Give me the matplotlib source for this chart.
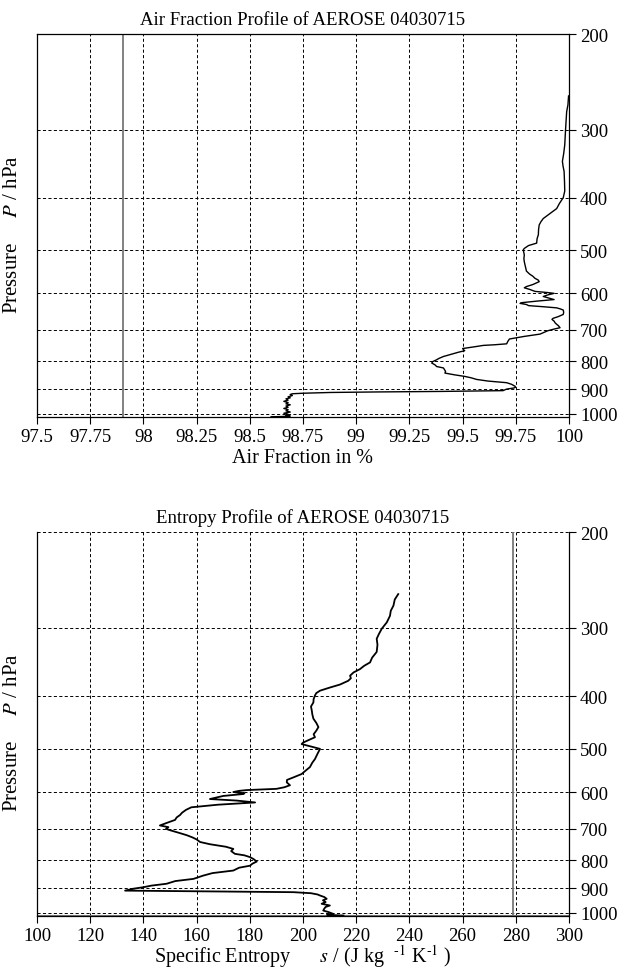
import matplotlib
matplotlib.use("Agg")
import matplotlib.pyplot as plt
from matplotlib.ticker import FixedLocator, NullLocator

plt.rcParams['font.family'] = ['Liberation Serif', 'DejaVu Serif']
plt.rcParams['mathtext.fontset'] = 'stix'

# --- data -------------------------------------------------------------
p_ticks = [200, 300, 400, 500, 600, 700, 800, 900, 1000]

# air fraction profile (pressure in hPa, air fraction in %)
air_p = [260, 270, 278, 290, 299, 310, 320, 332, 343, 350, 358, 375, 389, 400,
         410, 419, 428, 437, 443, 449, 458, 468, 476, 485, 490, 496, 499, 510,
         518, 525, 535, 546, 553, 558, 563, 567, 571, 578, 583, 586, 590, 595,
         598, 600, 604, 608, 612, 616, 620, 624, 626, 629, 632, 635, 638, 641,
         644, 650, 656, 662, 667, 670, 675, 680, 684, 688, 694, 698, 703, 709,
         713, 720, 728, 736, 743, 746, 748, 752, 758, 762, 765, 770, 776, 784,
         790, 796, 801, 806, 812, 818, 823, 829, 835, 841, 847, 853, 858, 864,
         870, 876, 882, 889, 893, 896, 900, 906, 909, 911, 913, 916, 918, 921,
         925, 930, 934, 938, 943, 948, 953, 958, 962, 967, 972, 977, 982, 987,
         992, 997, 1002, 1006, 1009, 1011, 1012]
air_frac = [99.998, 99.995, 99.989, 99.986, 99.984, 99.982, 99.980, 99.975,
            99.969, 99.972, 99.977, 99.979, 99.980, 99.973, 99.955, 99.942,
            99.910, 99.879, 99.868, 99.860, 99.857, 99.856, 99.850, 99.848,
            99.810, 99.790, 99.785, 99.790, 99.788, 99.790, 99.795, 99.800,
            99.815, 99.830, 99.840, 99.855, 99.860, 99.830, 99.800, 99.790,
            99.815, 99.840, 99.900, 99.930, 99.900, 99.879, 99.905, 99.930,
            99.850, 99.780, 99.770, 99.800, 99.810, 99.880, 99.942, 99.960,
            99.973, 99.975, 99.973, 99.950, 99.925, 99.920, 99.930, 99.935,
            99.942, 99.950, 99.958, 99.930, 99.900, 99.879, 99.864, 99.790,
            99.720, 99.712, 99.707, 99.650, 99.597, 99.560, 99.500, 99.505,
            99.510, 99.480, 99.450, 99.410, 99.390, 99.375, 99.360, 99.355,
            99.370, 99.378, 99.410, 99.415, 99.420, 99.417, 99.460, 99.510,
            99.540, 99.566, 99.620, 99.707, 99.730, 99.746, 99.750, 99.740,
            99.707, 99.690, 99.400, 99.100, 98.880, 98.750, 98.700, 98.690,
            98.700, 98.680, 98.690, 98.670, 98.680, 98.660, 98.680, 98.670,
            98.690, 98.670, 98.680, 98.660, 98.680, 98.670, 98.690, 98.660,
            98.680, 98.670, 98.690, 98.650, 98.600]

# entropy profile (pressure in hPa, specific entropy in J/kg/K)
ent_p = [260, 266, 273, 279, 285, 293, 301, 308, 314, 322, 332, 340, 347, 352,
         357, 362, 367, 371, 375, 381, 386, 391, 395, 399, 405, 411, 418, 425,
         432, 440, 448, 456, 463, 470, 476, 482, 487, 490, 495, 500, 510, 522,
         530, 540, 548, 556, 564, 570, 576, 583, 588, 592, 595, 597, 600, 603,
         605, 610, 618, 622, 627, 633, 640, 647, 655, 661, 668, 675, 683, 691,
         696, 701, 705, 712, 720, 727, 733, 741, 748, 756, 763, 770, 779, 784,
         790, 797, 805, 812, 819, 826, 836, 845, 854, 866, 874, 884, 891, 897,
         903, 910, 916, 920, 925, 929, 935, 942, 948, 955, 962, 969, 975, 982,
         990, 996, 1004, 1008, 1011]
entropy = [235.8, 234.5, 234.0, 233.0, 232.7, 231.5, 229.6, 228.5, 227.7,
           228.0, 227.7, 226.0, 225.2, 223.0, 221.4, 219.0, 217.7, 218.0,
           217.0, 213.9, 210.0, 206.4, 205.0, 204.5, 204.0, 203.9, 203.0,
           203.3, 203.5, 203.9, 205.0, 205.8, 205.0, 204.0, 204.5, 202.0,
           200.0, 199.5, 203.0, 206.4, 205.5, 204.5, 203.5, 202.6, 201.0,
           199.5, 196.4, 194.0, 193.9, 195.1, 193.0, 190.0, 179.0, 176.0,
           173.8, 178.0, 177.6, 170.0, 165.0, 175.0, 182.0, 168.0, 158.0,
           156.0, 154.5, 153.8, 152.5, 151.9, 149.0, 146.2, 149.4, 148.5,
           150.0, 153.0, 156.3, 158.5, 160.0, 161.3, 165.0, 171.0, 173.8,
           173.0, 174.4, 178.0, 180.1, 181.5, 182.6, 181.0, 180.1, 176.0,
           173.8, 166.0, 162.5, 158.8, 152.0, 148.7, 143.0, 140.0, 136.0,
           133.1, 196.4, 203.0, 205.5, 206.4, 208.0, 208.9, 207.5, 208.5,
           207.0, 210.1, 208.5, 208.0, 207.6, 209.5, 211.4, 209.0, 215.2]

air_ticks = [97.5, 97.75, 98, 98.25, 98.5, 98.75, 99, 99.25, 99.5, 99.75, 100]
air_labels = ['97.5', '97.75', '98', '98.25', '98.5', '98.75', '99', '99.25',
              '99.5', '99.75', '100']
ent_ticks = [100, 120, 140, 160, 180, 200, 220, 240, 260, 280, 300]

air_ref = 97.905
ent_ref = 279.0
p_surface = 1012.5

FS = 13.5      # ticks and titles
XFS = 14.5     # x labels
YFS = 15       # y labels


def style_axis(ax, xticks, xlabels):
    ax.set_yscale('log')
    ax.set_ylim(1013, 200)
    ax.set_xlim(xticks[0], xticks[-1])
    ax.yaxis.set_major_locator(FixedLocator(p_ticks))
    ax.yaxis.set_minor_locator(NullLocator())
    ax.set_yticklabels([str(p) for p in p_ticks])
    ax.yaxis.tick_right()
    ax.set_xticks(xticks)
    ax.set_xticklabels(xlabels)
    ax.tick_params(direction='out', length=5, width=0.8, labelsize=FS, pad=3,
                   colors='black')
    ax.grid(True, ls=(0, (3.2, 2.4)), color='black', lw=0.7)
    for s in ax.spines.values():
        s.set_linewidth(0.9)
    ax.set_ylabel(r"Pressure     $P$ / hPa", fontsize=YFS)
    ax.yaxis.set_label_coords(-0.028, 0.48)


def put_xlabel(ax, text):
    ax.set_xlabel(text, fontsize=XFS)
    ax.xaxis.set_label_coords(0.5, -0.118)
    ax.xaxis.label.set_va('baseline')


fig = plt.figure(figsize=(6.17, 9.70), dpi=100)
ax1 = fig.add_axes([37 / 617, 1 - 418 / 970, 532 / 617, 383 / 970])
ax2 = fig.add_axes([37 / 617, 1 - 917 / 970, 532 / 617, 384 / 970])

# top panel
style_axis(ax1, air_ticks, air_labels)
ax1.axvline(air_ref, color='#777777', lw=1.3)
ax1.plot(air_frac, air_p, color='black', lw=1.0)
ax1.set_title("Air Fraction Profile of AEROSE 04030715", fontsize=FS, pad=7)
put_xlabel(ax1, "Air Fraction in %")

# bottom panel
style_axis(ax2, ent_ticks, [str(t) for t in ent_ticks])
ax2.spines['top'].set_visible(False)
ax2.axvline(ent_ref, color='#777777', lw=1.3)
ax2.axhline(p_surface, color='#777777', lw=1.5)
ax2.plot(entropy, ent_p, color='black', lw=1.3)
ax2.set_title("Entropy Profile of AEROSE 04030715", fontsize=FS, pad=7)
put_xlabel(ax2, r"Specific Entropy      $s$ / (J kg  $^{\text{-1}}$ K$^{\text{-1}}$ )")

fig.savefig('out.png', dpi=100)
